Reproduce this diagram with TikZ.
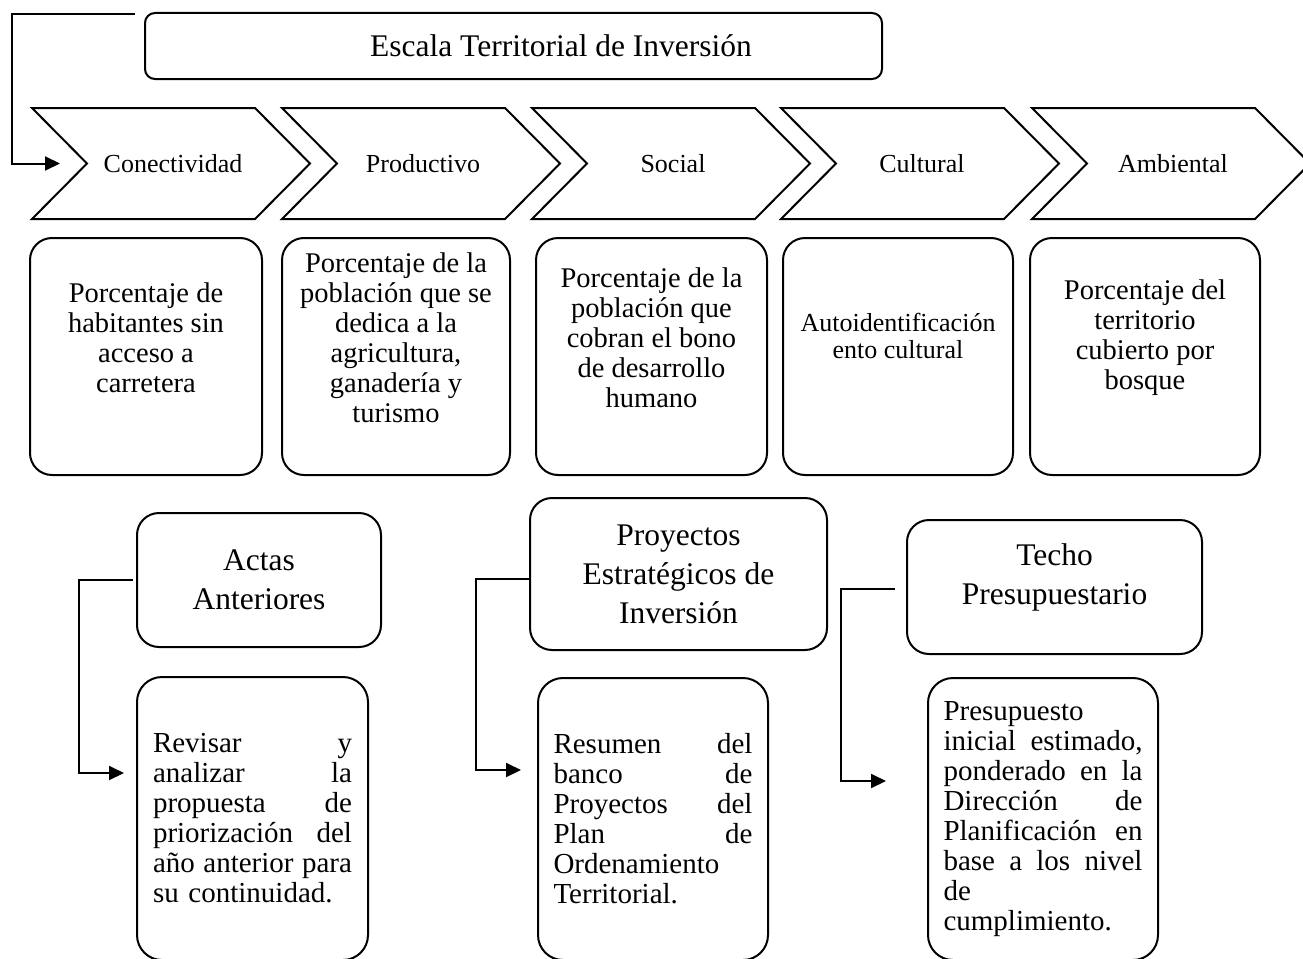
\documentclass[tikz,border=0pt]{standalone}
\usepackage{fontspec}
\setmainfont{Liberation Serif}
\usepackage{tikz}
\usetikzlibrary{arrows.meta,positioning,calc}

\begin{document}
\begin{tikzpicture}[x=1pt, y=-1pt,
    box/.style={draw, line width=2pt, rounded corners=22pt, inner sep=0pt},
    chev/.style={draw, line width=2pt, line join=miter},
    chevtxt/.style={font=\fontsize{26}{30}\selectfont},
    indtxt/.style={align=center, font=\fontsize{28.5}{30}\selectfont},
    hdrtxt/.style={align=center, font=\fontsize{31.5}{39}\selectfont},
    bodytxt/.style={box, rounded corners=25pt, text width=199pt, align=left,
        font=\fontsize{29}{30}\selectfont},
    conn/.style={draw, line width=2pt, -{Triangle[length=15pt,width=14pt]}}]

    \useasboundingbox (0,0) rectangle (1303,958);
    \clip (0,0) rectangle (1303,958);

    % Title
    \node[box, rounded corners=10pt, minimum width=737pt, minimum height=66pt] (title) at (513.5,46) {};
    \node[font=\fontsize{31.5}{36}\selectfont] (titletxt) at (561,46) {Escala Territorial de Inversión};

    % Chevrons
    \foreach \x/\lbl [count=\i] in {32/Conectividad, 282/Productivo, 532/Social, 781/Cultural, 1032/Ambiental} {
        \draw[chev] (\x,108) -- ++(223,0) -- ++(55,55.5) -- ++(-55,55.5) -- ++(-223,0) -- ++(55,-55.5) -- cycle;
        \node[chevtxt] (chev\i) at (\x+141,163.5) {\lbl};
    }

    % Title to first chevron
    \coordinate (tstart) at ([xshift=-9pt,yshift=-2pt]title.north west);
    \coordinate (chev1in) at (60,163.5);
    \draw[conn] (tstart) -| (12,163.5) -- (chev1in);

    % Indicators
    \node[box, minimum width=232pt, minimum height=237pt] (ind1) at (146,356.5) {};
    \node[indtxt] (ind1txt) at ([yshift=18.5pt]ind1.center) {Porcentaje de\\habitantes sin\\acceso a\\carretera};
    \node[box, minimum width=228pt, minimum height=237pt] (ind2) at (396,356.5) {};
    \node[indtxt] (ind2txt) at ([yshift=18.5pt]ind2.center) {Porcentaje de la\\población que se\\dedica a la\\agricultura,\\ganadería y\\turismo};
    \node[box, minimum width=231pt, minimum height=237pt] (ind3) at (651.5,356.5) {};
    \node[indtxt] (ind3txt) at ([yshift=18.5pt]ind3.center) {Porcentaje de la\\población que\\cobran el bono\\de desarrollo\\humano};
    \node[box, minimum width=230pt, minimum height=237pt] (ind4) at (898,356.5) {};
    \node[indtxt, font=\fontsize{26}{27}\selectfont] (ind4txt) at ([yshift=21pt]ind4.center) {Autoidentificación\\ento cultural};
    \node[box, minimum width=230pt, minimum height=237pt] (ind5) at (1145,356.5) {};
    \node[indtxt] (ind5txt) at ([yshift=18.5pt]ind5.center) {Porcentaje del\\territorio\\cubierto por\\bosque};

    % Actas anteriores
    \node[box, hdrtxt, minimum width=244pt, minimum height=134pt] (actas) at (259,580) {Actas\\Anteriores};
    \node[bodytxt, minimum width=231pt, minimum height=283pt] (revisar) at (252.5,818.5)
        {Revisar\hfill y\\analizar\hfill la\\propuesta\hfill de\\priorización\hfill del\\año\hfill anterior\hfill para\\su continuidad.};
    \draw[conn] ([xshift=-3pt]actas.west) -- ++(-54,0) |- ([xshift=-12pt,yshift=45.5pt]revisar.west);

    % Proyectos estrategicos
    \node[box, hdrtxt, minimum width=297pt, minimum height=152pt] (proy) at (678.5,574) {Proyectos\\Estratégicos de\\Inversión};
    \node[bodytxt, minimum width=230pt, minimum height=282pt] (resumen) at (653,819)
        {Resumen\hfill del\\banco\hfill de\\Proyectos\hfill del\\Plan\hfill de\\Ordenamiento\\Territorial.};
    \draw[conn] ([yshift=-5pt]proy.west) -- ++(-53,0) |- ([xshift=-16pt,yshift=49pt]resumen.west);

    % Techo presupuestario
    \node[box, minimum width=295pt, minimum height=134pt] (techo) at (1054.5,587) {};
    \node[hdrtxt] (techotxt) at ([yshift=10pt]techo.center) {Techo\\Presupuestario};
    \node[bodytxt, minimum width=230pt, minimum height=282pt] (presup) at (1043,819)
        {Presupuesto\\inicial\hfill estimado,\\ponderado\hfill en\hfill la\\Dirección\hfill de\\Planificación\hfill en\\base\hfill a\hfill los\hfill nivel\\de\\cumplimiento.};
    \draw[conn] ([xshift=-11pt,yshift=-2pt]techo.west) -- ++(-54,0) |- ([xshift=-41pt,yshift=38pt]presup.west);
\end{tikzpicture}
\end{document}
